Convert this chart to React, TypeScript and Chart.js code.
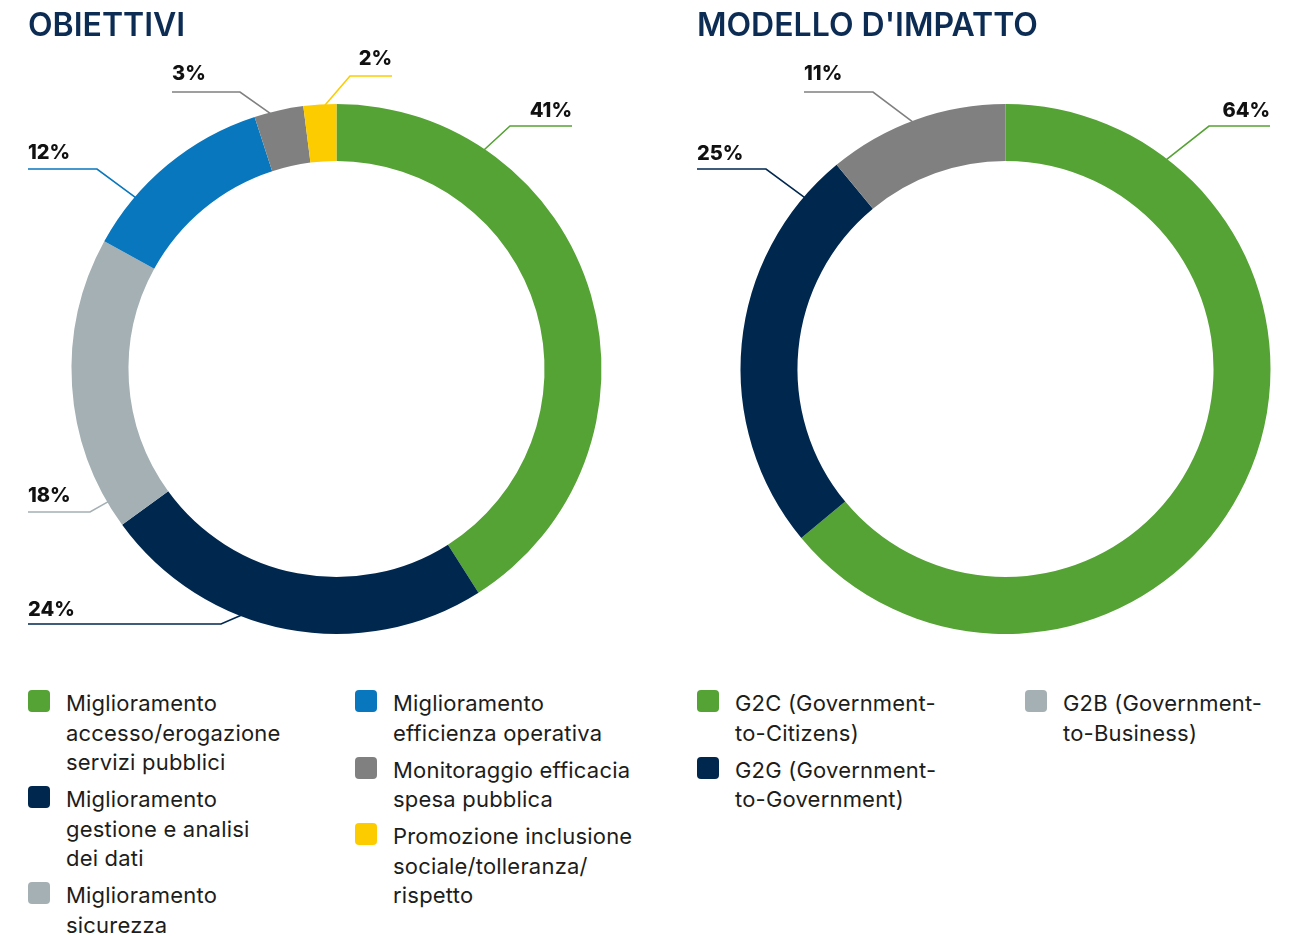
import React, { useEffect, useRef } from "react";
import { Chart, registerables } from "chart.js";

Chart.register(...registerables);

// ---------- DATA ----------
const objTitle = "OBIETTIVI";
const objLabels = [
  "Miglioramento\naccesso/erogazione\nservizi pubblici",
  "Miglioramento\ngestione e analisi\ndei dati",
  "Miglioramento\nsicurezza",
  "Miglioramento\nefficienza operativa",
  "Monitoraggio efficacia\nspesa pubblica",
  "Promozione inclusione\nsociale/tolleranza/\nrispetto",
];
const objValues = [41, 24, 18, 12, 3, 2];
const objColors = ["#55a235", "#00284f", "#a4b0b4", "#0877bd", "#808080", "#fdcc00"];

const impTitle = "MODELLO D'IMPATTO";
const impLabels = [
  "G2C (Government-\nto-Citizens)",
  "G2G (Government-\nto-Government)",
  "G2B (Government-\nto-Business)",
];
const impValues = [64, 25, 11];
const impColors = ["#55a235", "#00284f", "#808080"];
const impLegendColors = ["#55a235", "#00284f", "#a4b0b4"];

// ---------- LAYOUT (callout leader geometry relative to chart centre) ----------
const objCallouts = [
  { frac: 0.23, elbow: [173.5, -243], end: 235.5, gap: 9 },
  { frac: 0.62, elbow: [-115.5, 255], end: -308.5, gap: 8 },
  { frac: 0.09, elbow: [-246.5, 143], end: -308.5, gap: 10 },
  { frac: 0.27, elbow: [-239.5, -200], end: -308.5, gap: 10 },
  { frac: 0.32, elbow: [-96.5, -277], end: -164.5, gap: 12 },
  { frac: 0.65, elbow: [13.5, -293], end: 55.5, gap: 11 },
];
const impCallouts = [
  { frac: 0.163, elbow: [203.5, -243], end: 264.5, gap: 9 },
  { frac: 0.89, elbow: [-239.5, -200], end: -308.5, gap: 9 },
  { frac: 0.48, elbow: [-132.5, -277], end: -201.5, gap: 12 },
];

const FONT = "Inter, 'Noto Sans', sans-serif";

const calloutPlugin = {
  id: "callouts",
  afterDatasetsDraw(chart: any, _args: any, opts: any) {
    const layout = opts.layout || [];
    const meta = chart.getDatasetMeta(0);
    const ds = chart.data.datasets[0];
    const ctx = chart.ctx;
    meta.data.forEach((arc: any, i: number) => {
      const c = layout[i];
      if (!c) return;
      const p = arc.getProps(["x", "y", "startAngle", "endAngle", "outerRadius"], true);
      const a = p.startAngle + (p.endAngle - p.startAngle) * c.frac;
      const r = p.outerRadius - 1;
      const sx = p.x + Math.cos(a) * r;
      const sy = p.y + Math.sin(a) * r;
      const ex = p.x + c.elbow[0];
      const ey = p.y + c.elbow[1];
      const tx = p.x + c.end;
      ctx.save();
      ctx.strokeStyle = ds.backgroundColor[i];
      ctx.lineWidth = 1.6;
      ctx.beginPath();
      ctx.moveTo(sx, sy);
      ctx.lineTo(ex, ey);
      ctx.lineTo(tx, ey);
      ctx.stroke();
      ctx.fillStyle = "#111111";
      ctx.font = "800 20px " + FONT;
      ctx.textBaseline = "alphabetic";
      ctx.textAlign = tx > ex ? "right" : "left";
      ctx.fillText(ds.data[i] + "%", tx, ey - c.gap);
      ctx.restore();
    });
  },
};

function Donut({
  values,
  colors,
  labels,
  callouts,
  left,
  width,
  padLeft,
}: {
  values: number[];
  colors: string[];
  labels: string[];
  callouts: any[];
  left: number;
  width: number;
  padLeft: number;
}) {
  const ref = useRef<HTMLCanvasElement | null>(null);
  const height = 680;
  useEffect(() => {
    if (!ref.current) return;
    const size = 530;
    const chart = new Chart(ref.current, {
      type: "doughnut",
      data: {
        labels: labels.map((l) => l.replace(/\n/g, " ")),
        datasets: [
          {
            data: values,
            backgroundColor: colors,
            borderWidth: 0,
          },
        ],
      },
      options: {
        responsive: false,
        maintainAspectRatio: false,
        animation: false,
        cutout: "78.5%",
        layout: {
          padding: {
            left: padLeft,
            right: width - padLeft - size,
            top: 104,
            bottom: height - 104 - size,
          },
        },
        plugins: {
          legend: { display: false },
          tooltip: { enabled: false },
          callouts: { layout: callouts },
        } as any,
      },
      plugins: [calloutPlugin],
    });
    return () => chart.destroy();
  }, []);
  return (
    <canvas
      ref={ref}
      width={width}
      height={height}
      style={{ position: "absolute", left, top: 0, width, height }}
    />
  );
}

function LegendColumn({
  items,
  x,
}: {
  items: { label: string; color: string }[];
  x: number;
}) {
  return (
    <div style={{ position: "absolute", left: x, top: 689 }}>
      {items.map((it, i) => (
        <div key={i} style={{ display: "flex", alignItems: "flex-start", marginBottom: 7.5 }}>
          <div
            style={{
              width: 22,
              height: 22,
              borderRadius: 4,
              background: it.color,
              marginTop: 1,
              marginRight: 16,
              flex: "none",
            }}
          />
          <div
            style={{
              whiteSpace: "pre-line",
              fontFamily: FONT,
              fontSize: 22,
              lineHeight: "29.5px",
              color: "#1d1d1b",
              letterSpacing: 0.2,
            }}
          >
            {it.label}
          </div>
        </div>
      ))}
    </div>
  );
}

const titleStyle: React.CSSProperties = {
  position: "absolute",
  top: 9,
  fontFamily: FONT,
  fontWeight: 600,
  fontSize: 32,
  lineHeight: "32px",
  color: "#0d2c54",
  whiteSpace: "nowrap",
  zIndex: 2,
};

export default function App() {
  const objItems = objLabels.map((l, i) => ({ label: l, color: objColors[i] }));
  const impItems = impLabels.map((l, i) => ({ label: l, color: impLegendColors[i] }));
  return (
    <div
      style={{
        position: "absolute",
        left: 0,
        top: 0,
        width: 1293,
        height: 936,
        background: "#ffffff",
        overflow: "hidden",
      }}
    >
      <Donut
        values={objValues}
        colors={objColors}
        labels={objLabels}
        callouts={objCallouts}
        left={0}
        width={669}
        padLeft={71.5}
      />
      <Donut
        values={impValues}
        colors={impColors}
        labels={impLabels}
        callouts={impCallouts}
        left={669}
        width={624}
        padLeft={71.5}
      />
      <div style={{ ...titleStyle, left: 28 }}>{objTitle}</div>
      <div style={{ ...titleStyle, left: 697 }}>{impTitle}</div>
      <LegendColumn items={objItems.slice(0, 3)} x={28} />
      <LegendColumn items={objItems.slice(3)} x={355} />
      <LegendColumn items={impItems.slice(0, 2)} x={697} />
      <LegendColumn items={impItems.slice(2)} x={1025} />
    </div>
  );
}
